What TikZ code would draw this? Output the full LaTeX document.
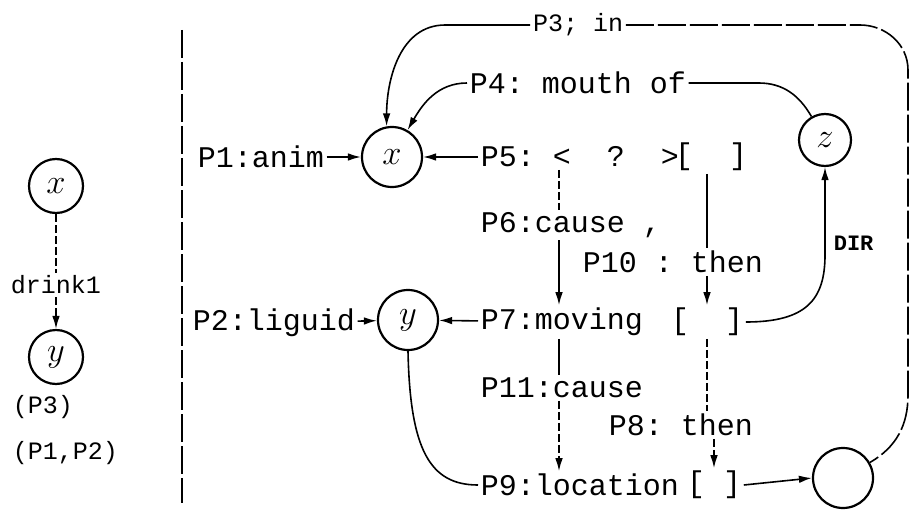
\documentclass[tikz,border=0pt]{standalone}
\usepackage{fontspec}
\setmonofont{Liberation Mono}
\usetikzlibrary{arrows.meta}

\begin{document}
\begin{tikzpicture}[x=0.5pt,y=0.5pt,line width=0.8pt,
  >={Latex[length=6.5pt,width=3.8pt]},
  var/.style={circle, draw=black, line width=1.1pt, minimum size=30pt, inner sep=0pt, font=\fontsize{17}{19}\selectfont},
  lab/.style={anchor=west, inner sep=1pt, font=\ttfamily\fontsize{15}{17}\selectfont},
  small/.style={anchor=west, inner sep=1pt, font=\ttfamily\fontsize{12.5}{14}\selectfont},
  broken/.style={dash pattern=on 14pt off 2pt},
  dots/.style={dash pattern=on 4pt off 1.5pt}]
\useasboundingbox (0,0) rectangle (915,-519);
\node[var, minimum size=27pt] (lx) at (56,-186) {$x$};
\node[small, anchor=center] (drink) at (56,-285) {drink1};
\node[var, minimum size=27pt] (ly) at (56,-357) {$y$};
\node[small] (pthree) at (10,-407) {(P3)};
\node[small] (ponetwo) at (10,-453) {(P1,P2)};
\draw[dots] (lx) -- (drink);
\draw[dots,->] (drink) -- (ly);
\coordinate (septop) at (182,-30);
\coordinate (sepbot) at (182,-503);
\draw[broken] (septop) -- (sepbot);
\node[var] (x) at (392,-157) {$x$};
\node[var] (y) at (408,-320) {$y$};
\node[var, minimum size=26pt] (z) at (825,-140) {$z$};
\node[var] (bot) at (843,-478) {};
\node[lab] (p1) at (195,-157) {P1:anim};
\node[lab] (p2) at (190,-323) {P2:liguid};
\node[small, anchor=center] (p3) at (578,-25) {P3; in};
\node[lab] (p4) at (467,-83) {P4: mouth of};
\node[lab] (p5) at (478,-157) {P5: <~~?~~>};
\node[lab, anchor=center] (b5) at (711,-157) {[~~]};
\node[lab] (p6) at (478,-225) {P6:cause ,};
\node[lab] (p10) at (580,-262) {P10 : then};
\node[lab] (p7) at (478,-322) {P7:moving};
\node[lab, anchor=center] (b7) at (707,-322) {[~~]};
\node[lab] (p11) at (478,-388) {P11:cause};
\node[lab] (p8) at (606,-425) {P8: then};
\node[lab] (p9) at (478,-485) {P9:location};
\node[lab, anchor=center] (b9) at (714,-485) {[~]};
\node[small, font=\ttfamily\bfseries\fontsize{11}{13}\selectfont] (dir) at (831,-243) {DIR};
\coordinate (colA) at (559,0);
\coordinate (dirbend) at (825,-255);
\draw[->] (p1) -- (x);
\draw[->] (p5) -- (x);
\draw[->] (p4.west) to[out=180,in=60] (x.60);
\draw[->] (p3.west) -- ++(-85,0) to[out=180,in=90] (x.100);
\draw (p4.east) -- ++(70,0) to[out=0,in=120] (z.120);
\draw[broken] (p3.east) -- (860,-25) to[out=0,in=90] (908,-70) -- (908,-395) to[out=-90,in=30] (bot.30);
\draw[->] (p2) -- (y);
\draw[->] (p7) -- (y);
\draw (y.south) .. controls (410,-450) and (430,-485) .. (p9.west);
\draw[dots] (colA |- p5.south) -- (colA |- p6.north);
\draw[->] (colA |- p6.south) -- (colA |- p7.north);
\draw (colA |- p7.south) -- (colA |- p11.north);
\draw[dots,->] (colA |- p11.south) -- (colA |- p9.north);
\draw (b7 |- b5.south) -- (b7 |- p10.north);
\draw[->] (b7 |- p10.south) -- (b7.north);
\draw[dots] (b7.south) -- (b7 |- p8.north);
\draw[dots,->] (b9 |- p8.south) -- (b9.north);
\draw[->] (b7.east) .. controls +(60,0) and +(0,-45) .. (dirbend) -- (z.south);
\draw[->] (b9.east) -- (bot.west);
\end{tikzpicture}
\end{document}
